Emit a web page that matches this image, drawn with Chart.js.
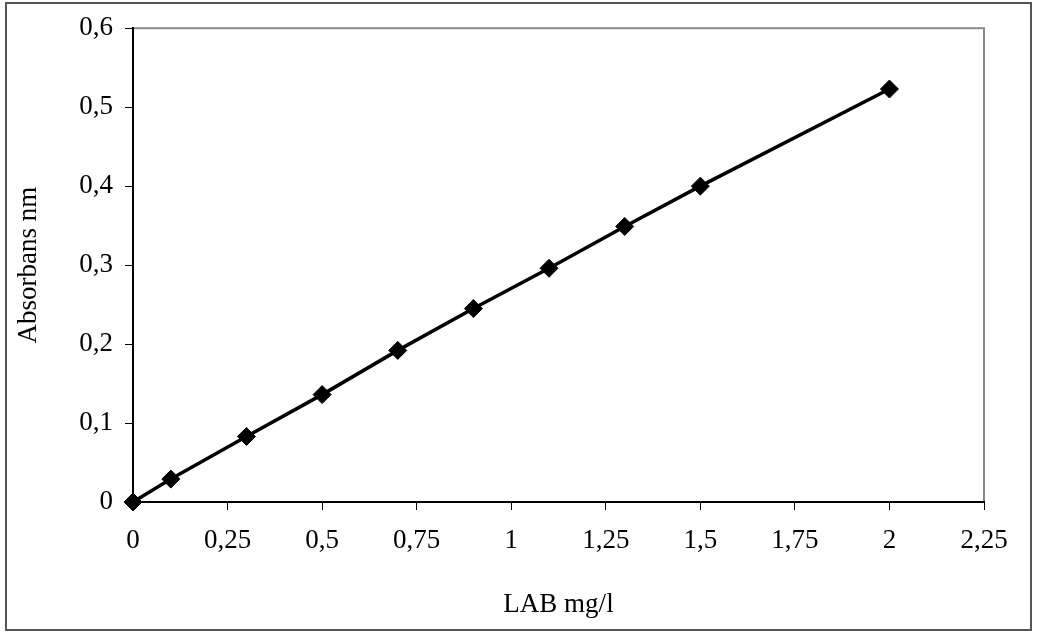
<!DOCTYPE html>
<html>
<head>
<meta charset="utf-8">
<script src="https://cdn.jsdelivr.net/npm/chart.js@4"></script>
<style>
  html, body { margin: 0; padding: 0; background: #fff; }
  #wrap { width: 1037px; height: 634px; }
</style>
</head>
<body>
<div id="wrap"><canvas id="chart" width="1037" height="634"></canvas></div>
<script>
// LAB concentration (mg/l) vs absorbance
const labMgL = [0, 0.1, 0.3, 0.5, 0.7, 0.9, 1.1, 1.3, 1.5, 2];
const absorbance = [0, 0.029, 0.083, 0.136, 0.192, 0.245, 0.296, 0.349, 0.4, 0.523];

const FONT = '"Liberation Serif", "Times New Roman", serif';
const co = v => (Math.round(v * 100) / 100).toString().replace('.', ',');

const frame = {
  id: 'frame',
  beforeDraw(chart) {
    const { ctx, chartArea: a } = chart;
    ctx.save();
    ctx.strokeStyle = '#8a8a8a';
    ctx.lineWidth = 2;
    ctx.strokeRect(a.left, a.top, a.right - a.left, a.bottom - a.top);
    ctx.strokeStyle = '#555';
    ctx.strokeRect(6, 3, 1025, 627);
    ctx.restore();
  }
};

new Chart(document.getElementById('chart'), {
  type: 'scatter',
  data: {
    datasets: [{
      data: labMgL.map((x, i) => ({ x, y: absorbance[i] })),
      showLine: true,
      clip: false,
      borderColor: '#000',
      borderWidth: 3.5,
      backgroundColor: '#000',
      pointStyle: 'rectRot',
      pointRadius: 9,
      pointHoverRadius: 9,
      pointBorderWidth: 1
    }]
  },
  options: {
    responsive: false,
    animation: false,
    layout: { padding: { top: 26, right: 53, left: 0, bottom: 0 } },
    plugins: { legend: { display: false }, tooltip: { enabled: false } },
    scales: {
      x: {
        type: 'linear',
        min: 0, max: 2.25,
        afterFit: s => { s.height = 132; },
        ticks: { stepSize: 0.25, color: '#000', padding: 15, font: { family: FONT, size: 27 }, callback: v => co(v), maxRotation: 0 },
        grid: { drawOnChartArea: false, tickLength: 8, color: '#000', lineWidth: 1 },
        border: { color: '#000', width: 2 },
        title: { display: true, text: 'LAB mg/l', color: '#000', font: { family: FONT, size: 27 }, padding: { top: 0, bottom: 13 } }
      },
      y: {
        min: 0, max: 0.6,
        afterFit: s => { s.width = 133; },
        ticks: { stepSize: 0.1, color: '#000', padding: 12, font: { family: FONT, size: 27 }, callback: v => co(v) },
        grid: { drawOnChartArea: false, tickLength: 8, color: '#000', lineWidth: 1 },
        border: { color: '#000', width: 2 },
        title: { display: true, text: 'Absorbans nm', color: '#000', font: { family: FONT, size: 27 }, padding: { top: 13, bottom: 0 } }
      }
    }
  },
  plugins: [frame]
});
</script>
</body>
</html>
